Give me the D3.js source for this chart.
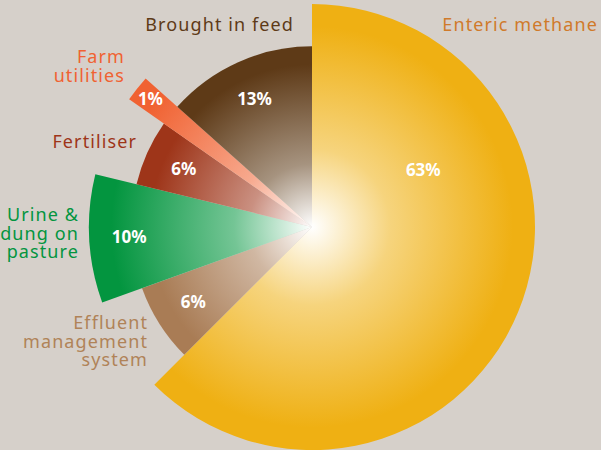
<!DOCTYPE html>
<html>
<head>
<meta charset="utf-8">
<script src="https://cdn.jsdelivr.net/npm/d3@7"></script>
<style>
  body { margin: 0; background: #d6d0ca; }
  svg { display: block; font-family: "Noto Sans", sans-serif; }
</style>
</head>
<body>
<div id="chart"></div>
<script>
/* Emissions breakdown as a pie with two lengths of wedge. */

const categories = ["Enteric methane", "Effluent management system", "Urine & dung on pasture",
                    "Fertiliser", "Farm utilities", "Brought in feed"];
const percents = [63, 6, 10, 6, 1, 13];           // printed labels
const drawnShare = [62.5, 7, 9.3, 5.9, 1.9, 13.4]; // wedge sizes as drawn
const reach = [1, 0.81, 1, 0.81, 1, 0.81];         // relative wedge length

const palette = ["#efb013", "#a97c55", "#03953f", "#9e3519", "#f06232", "#5e3a17"];

const width = 601, height = 450,
    cx = 312, cy = 227, maxR = 223;

const data = categories.map((c, i) => ({ name: c, pct: percents[i], share: drawnShare[i], reach: reach[i], color: palette[i] }));

const svg = d3.select("#chart")
  .append("svg")
  .attr("width", width)
  .attr("height", height)
  .attr("viewBox", [0, 0, width, height]);

svg.append("rect").attr("width", width).attr("height", height).attr("fill", "#d6d0ca");

const r = d3.scaleLinear().domain([0, 1]).range([0, maxR]);

const pie = d3.pie().sort(null).value(d => d.share);
const arcs = pie(data);

const arc = d3.arc()
  .innerRadius(0)
  .outerRadius(d => r(d.data.reach));

const defs = svg.append("defs");
arcs.forEach((d, i) => {
  let g = defs.append("radialGradient")
    .attr("id", "grad" + i)
    .attr("gradientUnits", "userSpaceOnUse")
    .attr("cx", 0).attr("cy", 0)
    .attr("r", r(d.data.reach));
  g.append("stop").attr("offset", 0).attr("stop-color", "#ffffff");
  g.append("stop").attr("offset", 0.35).attr("stop-color", d3.interpolateRgb("#ffffff", d.data.color)(0.55));
  g.append("stop").attr("offset", 0.9).attr("stop-color", d.data.color);
});

const g = svg.append("g").attr("transform", `translate(${cx},${cy})`);

g.selectAll("path")
  .data(arcs)
  .join("path")
  .attr("d", arc)
  .attr("fill", (d, i) => `url(#grad${i})`);

// percent labels, mostly near the outer part of each wedge
const polar = (a, rad) => [Math.sin(a) * rad, -Math.cos(a) * rad];
g.selectAll("text.pct")
  .data(arcs)
  .join("text")
  .attr("class", "pct")
  .attr("text-anchor", "middle")
  .attr("dy", "0.35em")
  .attr("fill", "#fff")
  .attr("font-weight", "bold")
  .attr("font-size", 17)
  .attr("transform", (d, i) => {
    let a, rad;
    if (i === 0) { // big wedge: label sits up in its first part
      a = d.startAngle + 0.28 * (d.endAngle - d.startAngle);
      rad = 0.56 * r(d.data.reach);
    } else {
      a = (d.startAngle + d.endAngle) / 2;
      rad = r(d.data.reach) - (d.data.share < 3 ? 17 : 40);
    }
    return `translate(${polar(a, rad)})`;
  })
  .text(d => d.data.pct + "%");

// category names
const names = [
  { lines: ["Enteric methane"], x: 598, y: 31 },
  { lines: ["Effluent", "management", "system"], x: 148, y: 329 },
  { lines: ["Urine &", "dung on", "pasture"], x: 79, y: 221 },
  { lines: ["Fertiliser"], x: 137, y: 148 },
  { lines: ["Farm", "utilities"], x: 125, y: 63 },
  { lines: ["Brought in feed"], x: 294, y: 31 }
];
const nameColors = ["#d07a2a", "#b08358", "#03953f", "#9e3519", "#f06232", "#5e3a17"];

names.forEach((n, i) => {
  n.lines.forEach((l, j) => {
    svg.append("text")
      .attr("x", n.x)
      .attr("y", n.y + j * 18.5)
      .attr("text-anchor", "end")
      .attr("fill", nameColors[i])
      .attr("font-size", 18)
      .attr("letter-spacing", 1.1)
      .text(l);
  });
});
</script>
</body>
</html>
